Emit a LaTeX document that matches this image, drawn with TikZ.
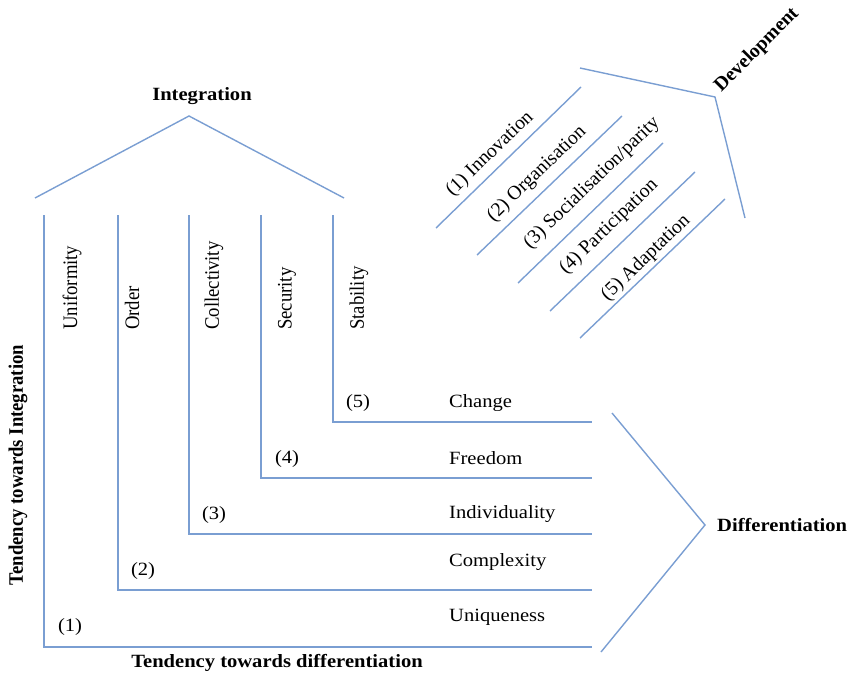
\documentclass[tikz,border=0pt]{standalone}
\usepackage{fontspec}
\setmainfont{Liberation Serif}
\definecolor{lineblue}{RGB}{122,158,210}
\newcommand{\hs}[1]{\scalebox{1.1}[1]{#1}}
\newcommand{\vs}[1]{\scalebox{1}[1.1]{#1}}
\newcommand{\ds}[1]{\scalebox{1.05}[1.05]{#1}}
\tikzset{
  ln/.style={draw=lineblue, line width=1.4pt},
  txt/.style={inner sep=0pt, font=\fontsize{18.7}{20}\selectfont},
  btxt/.style={inner sep=0pt, font=\fontsize{18.7}{20}\selectfont\bfseries},
}
\begin{document}
\begin{tikzpicture}[x=1pt,y=-1pt]
\useasboundingbox (0,0) rectangle (851,674);
% Integration roof
\coordinate (rl) at (35,198);
\coordinate (ra) at (189,116);
\coordinate (rr) at (344,198);
\draw[ln] (rl) -- (ra) -- (rr);
\node[btxt] (integ) at (202,96) {\hs{Integration}};
% verticals and horizontals
\foreach \i/\x/\y in {1/44/647, 2/118/590, 3/189/534, 4/261/478, 5/333/422}{
  \coordinate (t\i) at (\x,215);
  \coordinate (c\i) at (\x,\y);
  \coordinate (e\i) at (592,\y);
  \draw[ln] (t\i) -- (c\i) -- (e\i);
}
% vertical labels
\node[txt, rotate=90, anchor=west] (uni) at (72,330) {\vs{Uniformity}};
\node[txt, rotate=90, anchor=west] (ord) at (132,330) {\vs{Order}};
\node[txt, rotate=90, anchor=west] (col) at (214,330) {\vs{Collectivity}};
\node[txt, rotate=90, anchor=west] (sec) at (287,330) {\vs{Security}};
\node[txt, rotate=90, anchor=west] (sta) at (359,330) {\vs{Stability}};
% numbers
\node[txt] (n1) at (70,627) {\hs{(1)}};
\node[txt] (n2) at (143,571) {\hs{(2)}};
\node[txt] (n3) at (214,515) {\hs{(3)}};
\node[txt] (n4) at (287,459) {\hs{(4)}};
\node[txt] (n5) at (358,403) {\hs{(5)}};
% horizontal labels
\node[txt, anchor=west] (chg) at (449,403) {\hs{Change}};
\node[txt, anchor=west] (fre) at (449,458) {\hs{Freedom}};
\node[txt, anchor=west] (ind) at (449,514) {\hs{Individuality}};
\node[txt, anchor=west] (cpx) at (449,562) {\hs{Complexity}};
\node[txt, anchor=west] (unq) at (449,617) {\hs{Uniqueness}};
% axis labels
\node[btxt] (tdiff) at (277,663) {\hs{Tendency towards differentiation}};
\node[btxt, rotate=90] (tint) at (18,465) {\vs{Tendency towards Integration}};
% Differentiation chevron
\coordinate (dt) at (612,413);
\coordinate (dv) at (705,525);
\coordinate (db) at (601,652);
\draw[ln] (dt) -- (dv) -- (db);
\node[btxt, anchor=west] (diff) at (717,525) {\hs{Differentiation}};
% Development chevron
\coordinate (vt) at (580,68);
\coordinate (vv) at (715,97);
\coordinate (vb) at (745,218);
\draw[ln] (vt) -- (vv) -- (vb);
\node[btxt, rotate=45] (dev) at (757,50) {\ds{Development}};
% diagonal lines
\foreach \i/\xa/\ya/\xb/\yb in {1/436/228/581/87, 2/477/255/622/116, 3/518/283/663/143, 4/550/311/695/172, 5/580/338/725/199}{
  \coordinate (da\i) at (\xa,\ya);
  \coordinate (db\i) at (\xb,\yb);
  \draw[ln] (da\i) -- (db\i);
}
\node[txt, rotate=44] (d1) at (490,154) {\ds{(1) Innovation}};
\node[txt, rotate=44] (d2) at (537,174) {\ds{(2) Organisation}};
\node[txt, rotate=44] (d3) at (592,183) {\ds{(3) Socialisation/parity}};
\node[txt, rotate=44] (d4) at (609,227) {\ds{(4) Participation}};
\node[txt, rotate=44] (d5) at (646,258) {\ds{(5) Adaptation}};
\end{tikzpicture}
\end{document}
